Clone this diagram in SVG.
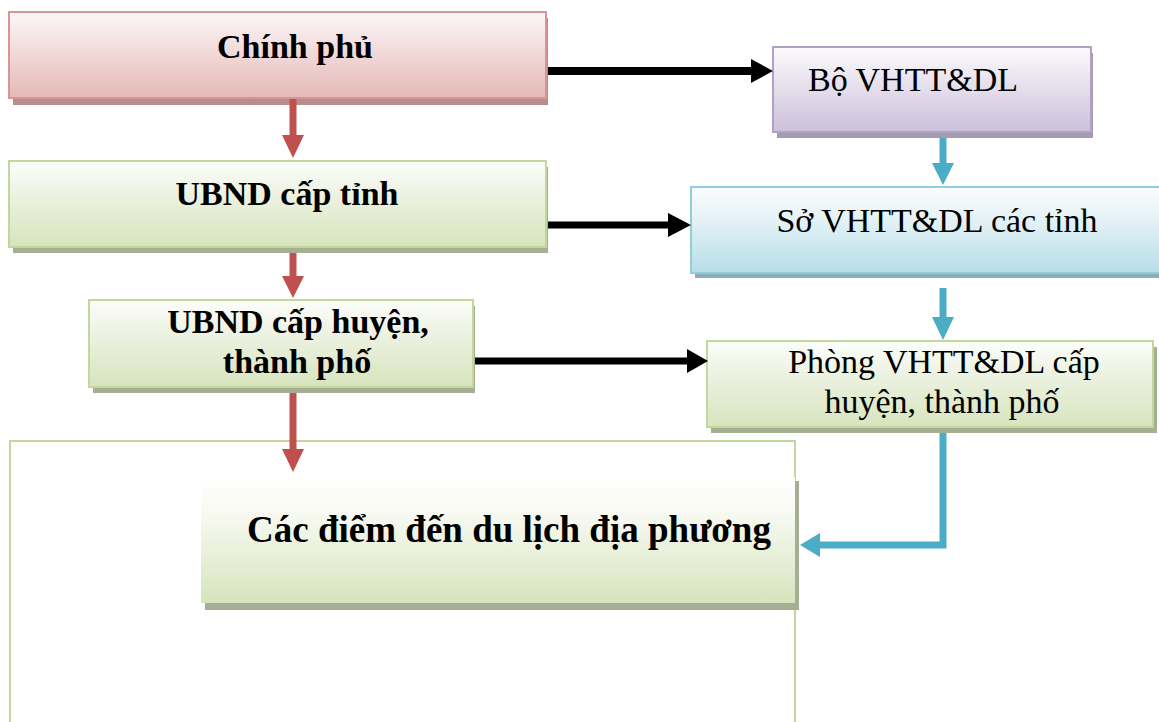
<svg xmlns="http://www.w3.org/2000/svg" width="1159" height="722" viewBox="0 0 1159 722">
<defs>
<linearGradient id="gRed" x1="0" y1="0" x2="0" y2="1">
<stop offset="0" stop-color="#fdf7f7"/><stop offset="0.35" stop-color="#f4e1e1"/><stop offset="1" stop-color="#e5b8b7"/>
</linearGradient>
<linearGradient id="gGreen" x1="0" y1="0" x2="0" y2="1">
<stop offset="0" stop-color="#fdfefb"/><stop offset="0.35" stop-color="#eef3e4"/><stop offset="1" stop-color="#d7e4bd"/>
</linearGradient>
<linearGradient id="gPurple" x1="0" y1="0" x2="0" y2="1">
<stop offset="0" stop-color="#fcfbfd"/><stop offset="0.35" stop-color="#ebe6f0"/><stop offset="1" stop-color="#ccc0da"/>
</linearGradient>
<linearGradient id="gBlue" x1="0" y1="0" x2="0" y2="1">
<stop offset="0" stop-color="#fbfdfe"/><stop offset="0.35" stop-color="#e6f3f7"/><stop offset="1" stop-color="#b7dde8"/>
</linearGradient>
<linearGradient id="gGreen2" x1="0" y1="0" x2="0" y2="1">
<stop offset="0" stop-color="#ffffff"/><stop offset="0.3" stop-color="#f7f9f1"/><stop offset="1" stop-color="#d7e4bd"/>
</linearGradient>
</defs>
<style>
.t{font-family:"Liberation Serif","Times New Roman",serif;font-size:34px;fill:#000}
.b{font-weight:bold}
.red{stroke:#c0504d;stroke-width:7;fill:none}
.redh{fill:#c0504d}
.blk{stroke:#000;stroke-width:8;fill:none}
.blkh{fill:#000}
.blu{stroke:#4bacc6;stroke-width:7;fill:none}
.bluh{fill:#4bacc6}
</style>

<g id="outer-box">
<rect x="10" y="441" width="785" height="300" fill="#ffffff" stroke="#c3d69b" stroke-width="2"/>
</g>

<g id="node-chinh-phu">
<rect x="13" y="18" width="535" height="87" fill="#b88e8d"/>
<rect x="9" y="12" width="537" height="86" fill="url(#gRed)" stroke="#d99594" stroke-width="2"/>
<text class="t b" x="295" y="58" text-anchor="middle">Chính phủ</text>
</g>

<g id="node-ubnd-tinh">
<rect x="13" y="167" width="535" height="86" fill="#a6ae94"/>
<rect x="9" y="161" width="537" height="86" fill="url(#gGreen)" stroke="#c3d69b" stroke-width="2"/>
<text class="t b" x="287" y="205" text-anchor="middle">UBND cấp tỉnh</text>
</g>

<g id="node-ubnd-huyen">
<rect x="93" y="306" width="382" height="87" fill="#a6ae94"/>
<rect x="89" y="300" width="384" height="87" fill="url(#gGreen)" stroke="#c3d69b" stroke-width="2"/>
<text class="t b" x="298" y="333" text-anchor="middle">UBND cấp huyện,</text>
<text class="t b" x="297" y="373" text-anchor="middle">thành phố</text>
</g>

<g id="node-diem-den">
<rect x="205" y="481" width="594" height="129" fill="#a6ae94"/>
<rect x="201" y="477" width="594" height="126" fill="url(#gGreen2)"/>
<text class="t b" x="509" y="542" text-anchor="middle" style="font-size:37px">Các điểm đến du lịch địa phương</text>
</g>

<g id="node-bo">
<rect x="777" y="53" width="316" height="85" fill="#a49cae"/>
<rect x="773" y="47" width="318" height="85" fill="url(#gPurple)" stroke="#b2a1c7" stroke-width="2"/>
<text class="t" x="808" y="91">Bộ VHTT&amp;DL</text>
</g>

<g id="node-so">
<rect x="695" y="193" width="470" height="85" fill="#8eacb4"/>
<rect x="691" y="187" width="470" height="86" fill="url(#gBlue)" stroke="#92cddc" stroke-width="2"/>
<text class="t" x="937" y="232" text-anchor="middle">Sở VHTT&amp;DL các tỉnh</text>
</g>

<g id="node-phong">
<rect x="711" y="347" width="446" height="86" fill="#a6ae94"/>
<rect x="707" y="341" width="446" height="86" fill="url(#gGreen)" stroke="#c3d69b" stroke-width="2"/>
<text class="t" x="944" y="373" text-anchor="middle">Phòng VHTT&amp;DL cấp</text>
<text class="t" x="942" y="413" text-anchor="middle">huyện, thành phố</text>
</g>

<g id="connectors">
<line class="red" x1="293" y1="99" x2="293" y2="137"/>
<polygon class="redh" points="282,135 304,135 293,158"/>
<line class="red" x1="293" y1="253" x2="293" y2="278"/>
<polygon class="redh" points="282,276 304,276 293,298"/>
<line class="red" x1="293" y1="393" x2="293" y2="450"/>
<polygon class="redh" points="282,449 304,449 293,472"/>

<line class="blk" x1="548" y1="71" x2="753" y2="71"/>
<polygon class="blkh" points="751,59 751,83 773,71"/>
<line class="blk" x1="548" y1="225" x2="670" y2="225" style="stroke-width:7"/>
<polygon class="blkh" points="668,213 668,237 691,225"/>
<line class="blk" x1="475" y1="361" x2="689" y2="361" style="stroke-width:7"/>
<polygon class="blkh" points="687,349 687,373 708,361"/>

<line class="blu" x1="943" y1="138" x2="943" y2="165"/>
<polygon class="bluh" points="932,163 954,163 943,185"/>
<line class="blu" x1="943" y1="288" x2="943" y2="319"/>
<polygon class="bluh" points="932,317 954,317 943,340"/>
<polyline class="blu" points="943,433 943,545 818,545"/>
<polygon class="bluh" points="820,533 820,557 800,545"/>
</g>
</svg>
